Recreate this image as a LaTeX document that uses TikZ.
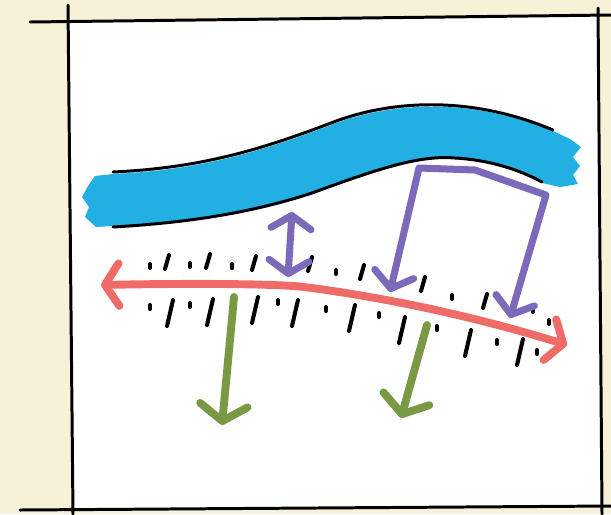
\documentclass[tikz,border=0pt]{standalone}
\usetikzlibrary{arrows.meta}
\definecolor{paper}{HTML}{F7F1D8}
\definecolor{river}{HTML}{22B0E4}
\definecolor{lilac}{HTML}{7B69B9}
\definecolor{salmon}{HTML}{EE6B67}
\definecolor{moss}{HTML}{7A9945}
\begin{document}
\begin{tikzpicture}[x=0.02cm, y=-0.02cm,
    pen/.style={line width=1.7pt, line cap=round},
    hatch/.style={line width=2.3pt, line cap=round},
    flow/.style={line width=4pt, line cap=round, line join=round, lilac},
    fault/.style={line width=4.5pt, line cap=round, salmon,
        {Straight Barb[length=2.8mm, width=8.5mm, round]}-{Straight Barb[length=2.8mm, width=8.5mm, round]}},
    drop/.style={line width=4.5pt, line cap=round, moss,
        -{Straight Barb[length=3.2mm, width=9.5mm, round]}}]
    \useasboundingbox (0,0) rectangle (611,514);
    % paper and sheet
    \fill[paper] (0,0) rectangle (611,514);
    \fill[white] (69,20) -- (600,16) -- (602,508) -- (73,510) -- cycle;
    \draw[pen] (30,22) -- (611,15);
    \draw[pen] (68,5) -- (73,514);
    \draw[pen] (598,8) -- (602,514);
    \draw[pen] (20,510) -- (611,506);

    % river band
    \fill[river] (113,174) .. controls (200,170) and (260,152) .. (331,125)
        .. controls (390,102) and (470,97) .. (553,131)
        -- (570,139) -- (581,147) -- (573,157) -- (580,166) -- (573,175) -- (578,184)
        -- (560,187) -- (542,183)
        .. controls (520,171) and (490,161) .. (455,159)
        .. controls (420,156) and (380,169) .. (312,194)
        .. controls (260,211) and (200,223) .. (113,226)
        -- (96,227) -- (85,217) -- (89,207) -- (82,197) -- (88,186) -- (95,176) -- cycle;
    \draw[pen] (113,172) .. controls (200,168) and (260,150) .. (331,123)
        .. controls (390,100) and (470,95) .. (553,130);
    \draw[pen] (113,227) .. controls (200,222) and (260,210) .. (312,193)
        .. controls (380,168) and (420,155) .. (455,158)
        .. controls (490,160) and (520,170) .. (542,182);

    % hatch marks along the fault
    \foreach \x/\y in {167/262, 208/261, 254/263, 310/264, 362/272, 423/284, 485/301}
        \draw[hatch] (\x+2,\y-7) -- (\x-2,\y+7);
    \foreach \x/\y in {170/313, 210/312, 255/310, 295/313, 352/318, 402/330, 468/343, 520/352}
        \draw[hatch] (\x+3,\y-13) -- (\x-3,\y+13);
    \foreach \x/\y in {150/266, 190/265, 232/266, 336/272, 452/297, 533/310, 549/322,
                       150/307, 190/305, 278/302, 326/309, 379/315, 437/328, 497/342, 537/352}
        \draw[hatch] (\x,\y-2) -- (\x,\y+2);

    % fault line
    \coordinate (faultL) at (101,285);
    \coordinate (faultM) at (304,287);
    \coordinate (faultR) at (567,345);
    \draw[fault] (faultL) .. controls (200,283) and (280,284) .. (faultM)
        .. controls (390,298) and (480,318) .. (faultR);

    % gap between river and fault
    \coordinate (gapT) at (292,212);
    \coordinate (gapB) at (288,277);
    \draw[flow, {Straight Barb[length=2.6mm, width=8mm, round]}-{Straight Barb[length=2.6mm, width=8mm, round]}] (gapT) -- (gapB);

    % loop from river down to fault
    \coordinate (loopA) at (390,292);
    \coordinate (loopB) at (419,168);
    \coordinate (loopC) at (475,170);
    \coordinate (loopD) at (546,195);
    \coordinate (loopE) at (510,318);
    \draw[flow, {Straight Barb[length=3mm, width=8mm, round]}-{Straight Barb[length=3mm, width=8mm, round]}]
        (loopA) -- (loopB) -- (loopC) -- (loopD) -- (loopE);

    % downward arrows
    \coordinate (dropA) at (234,297);
    \coordinate (dropAend) at (222,425);
    \coordinate (dropB) at (427,325);
    \coordinate (dropBend) at (401,418);
    \draw[drop] (dropA) -- (dropAend);
    \draw[drop] (dropB) -- (dropBend);
\end{tikzpicture}
\end{document}
